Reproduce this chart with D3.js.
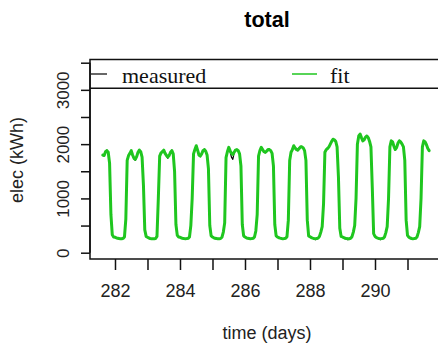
<!DOCTYPE html>
<html>
<head>
<meta charset="utf-8">
<script src="https://cdn.jsdelivr.net/npm/d3@7"></script>
<style>
  body { margin: 0; background: #fff; }
  svg { display: block; }
</style>
</head>
<body>
<script>
// Hourly electricity use; the first day begins at 15:00, the rest at 00:00.
const days = [281, 282, 283, 284, 285, 286, 287, 288, 289, 290, 291];
const firstHour = 15;

const measuredDays = [
  [1790,1800,1850,1890,1840,1660,680,320,280],
  [280,270,262,255,250,255,262,295,600,1720,1780,1840,1870,1790,1730,1700,1780,1840,1900,1850,1770,1230,430,295],
  [280,265,258,252,250,255,260,305,980,1790,1830,1870,1880,1840,1780,1740,1800,1840,1890,1810,1520,500,315,285],
  [280,268,260,255,252,258,262,295,480,1020,1810,1910,1960,1880,1790,1770,1830,1870,1910,1860,1810,1530,510,300],
  [285,270,260,255,250,255,260,290,370,560,1740,1870,1930,1860,1760,1720,1840,1900,1890,1870,1830,1580,530,300],
  [285,270,262,258,252,258,262,295,390,720,1770,1890,1930,1910,1850,1840,1880,1890,1910,1870,1840,1580,530,300],
  [285,270,262,258,250,255,262,300,580,1720,1840,1910,1960,1940,1890,1880,1930,1940,1960,1920,1890,1680,620,300],
  [290,272,262,255,240,255,265,305,370,490,880,1860,1890,1930,1940,2010,2040,2100,2070,2060,1940,1420,440,290],
  [285,270,260,252,238,252,262,300,370,510,980,2010,2140,2195,2110,2050,2090,2120,2160,2110,2060,1930,1220,340],
  [295,275,262,255,240,255,262,295,360,490,980,1960,2070,2030,1950,1890,1950,2010,2070,2030,2010,1940,1720,580],
  [310,280,265,258,245,255,262,295,360,490,980,1960,2070,2030,1980,1910,1870]
];

const fitDays = [
  [1800,1790,1860,1880,1850,1650,700,330,290],
  [285,275,265,260,255,258,265,290,620,1700,1790,1830,1880,1800,1740,1720,1770,1850,1890,1860,1760,1250,420,300],
  [285,270,262,258,255,258,262,300,1000,1780,1840,1860,1890,1830,1790,1760,1790,1850,1880,1820,1500,520,320,290],
  [285,272,265,260,258,260,265,290,500,1000,1820,1900,1970,1890,1800,1780,1820,1880,1900,1870,1800,1550,500,310],
  [290,275,265,260,255,258,262,285,380,550,1750,1860,1940,1880,1830,1810,1850,1890,1900,1880,1820,1600,520,310],
  [290,275,265,262,258,260,265,290,400,700,1780,1880,1940,1900,1860,1850,1870,1900,1900,1880,1830,1600,520,310],
  [290,275,268,262,258,260,265,295,600,1700,1850,1900,1970,1930,1900,1890,1920,1950,1950,1930,1880,1700,600,310],
  [295,278,268,262,258,260,268,300,380,480,900,1850,1900,1920,1950,2000,2050,2090,2080,2050,1950,1400,450,300],
  [290,276,266,260,256,258,265,295,380,500,1000,2000,2150,2185,2120,2060,2080,2130,2150,2120,2050,1950,1200,350],
  [300,280,268,262,258,260,265,290,370,480,1000,1950,2060,2040,1960,1900,1940,2020,2060,2040,2000,1950,1700,600],
  [320,285,270,262,258,260,265,290,370,480,1000,1950,2060,2040,1990,1920,1880]
];

const xTicks = [282, 283, 284, 285, 286, 287, 288, 289, 290, 291];
const xTickLabels = [282, 284, 286, 288, 290];
const yTicks = [0, 500, 1000, 1500, 2000, 2500, 3000, 3500];
const yTickLabels = [0, 1000, 2000, 3000];
const legendItems = ["measured", "fit"];
const seriesColors = ["#000000", "#1fc61f"];

// Flatten per-day arrays into (time, value) points, time in days.
function toSeries(byDay) {
  const pts = [];
  byDay.forEach((vals, k) => {
    const start = k === 0 ? firstHour : 0;
    vals.forEach((v, i) => pts.push({ t: days[k] + (start + i) / 24, v }));
  });
  return pts;
}
const measured = toSeries(measuredDays);
const fit = toSeries(fitDays);

const W = 438, H = 346;
const plot = { left: 90, right: 444, top: 59.5, bottom: 259 };

const x = d3.scaleLinear().domain([281.231, 292.123]).range([plot.left, plot.right]);
const y = d3.scaleLinear().domain([-116, 3559]).range([plot.bottom, plot.top]);

const svg = d3.select("body").append("svg")
  .attr("width", W).attr("height", H)
  .style("font-family", "'Liberation Sans', Arial, sans-serif");

// Title
svg.append("text")
  .attr("x", 267).attr("y", 27)
  .attr("text-anchor", "middle")
  .style("font-size", "21.6px").style("font-weight", "bold")
  .text("total");

// Clip for data lines
svg.append("clipPath").attr("id", "plotClip")
  .append("rect")
  .attr("x", plot.left).attr("y", plot.top)
  .attr("width", plot.right - plot.left).attr("height", plot.bottom - plot.top);

const line = d3.line().x(d => x(d.t)).y(d => y(d.v));

const lines = svg.append("g").attr("clip-path", "url(#plotClip)");
lines.append("path").datum(measured)
  .attr("d", line).attr("fill", "none")
  .attr("stroke", seriesColors[0]).attr("stroke-width", 1.2)
  .attr("stroke-linejoin", "round");
lines.append("path").datum(fit)
  .attr("d", line).attr("fill", "none")
  .attr("stroke", seriesColors[1]).attr("stroke-width", 3)
  .attr("stroke-linejoin", "round").attr("stroke-linecap", "round");

// Plot frame
svg.append("rect")
  .attr("x", plot.left).attr("y", plot.top)
  .attr("width", plot.right - plot.left).attr("height", plot.bottom - plot.top)
  .attr("fill", "none").attr("stroke", "#111").attr("stroke-width", 1.5);

// X axis
const xAxis = d3.axisBottom(x).tickValues(xTicks).tickSize(11).tickPadding(14)
  .tickFormat(d => xTickLabels.includes(d) ? d : "");
const gx = svg.append("g").attr("transform", `translate(0,${plot.bottom})`).call(xAxis);
gx.select(".domain").remove();
gx.selectAll(".tick line").attr("stroke", "#111").attr("stroke-width", 1.5);
gx.selectAll(".tick text")
  .style("font-size", "18px").style("font-family", "'Liberation Sans', Arial, sans-serif")
  .attr("fill", "#222");

// Y axis with rotated labels
const yAxis = d3.axisLeft(y).tickValues(yTicks).tickSize(9)
  .tickFormat(d => yTickLabels.includes(d) ? d : "");
const gy = svg.append("g").attr("transform", `translate(${plot.left},0)`).call(yAxis);
gy.select(".domain").remove();
gy.append("line")
  .attr("x1", 0).attr("x2", 0)
  .attr("y1", y(3500)).attr("y2", y(0))
  .attr("stroke", "#111").attr("stroke-width", 1.5);
gy.selectAll(".tick line").attr("stroke", "#111").attr("stroke-width", 1.5);
gy.selectAll(".tick text")
  .attr("x", null).attr("dy", null)
  .attr("transform", "translate(-21,0) rotate(-90)")
  .attr("text-anchor", "middle")
  .style("font-size", "17px").style("font-family", "'Liberation Sans', Arial, sans-serif")
  .attr("fill", "#222");

// Axis titles
svg.append("text")
  .attr("x", 267).attr("y", 339)
  .attr("text-anchor", "middle")
  .style("font-size", "18px").attr("fill", "#222")
  .text("time (days)");
svg.append("text")
  .attr("transform", "translate(23,160) rotate(-90)")
  .attr("text-anchor", "middle")
  .style("font-size", "18px").attr("fill", "#222")
  .text("elec (kWh)");

// Legend along the top of the plot
const legend = svg.append("g");
legend.append("line")
  .attr("x1", plot.left).attr("x2", plot.right)
  .attr("y1", 88.3).attr("y2", 88.3)
  .attr("stroke", "#111").attr("stroke-width", 1.5);
const legendPos = [
  { seg: [91, 107], text: 122, width: 1.2 },
  { seg: [292, 317], text: 330, width: 1.5 }
];
legendItems.forEach((name, i) => {
  const p = legendPos[i];
  legend.append("line")
    .attr("x1", p.seg[0]).attr("x2", p.seg[1])
    .attr("y1", 74).attr("y2", 74)
    .attr("stroke", seriesColors[i]).attr("stroke-width", p.width);
  legend.append("text")
    .attr("x", p.text).attr("y", 83)
    .style("font-family", "'Liberation Serif', 'Times New Roman', serif")
    .style("font-size", "22px").attr("fill", "#111")
    .text(name);
});
</script>
</body>
</html>
